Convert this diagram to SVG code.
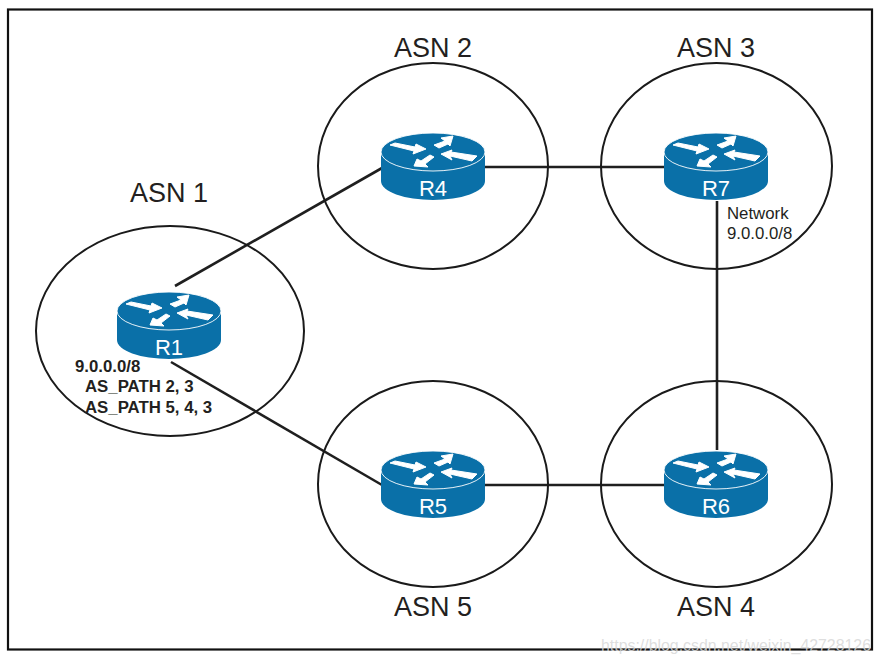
<svg xmlns="http://www.w3.org/2000/svg" width="882" height="663" viewBox="0 0 882 663">
<style>
text{font-family:"Liberation Sans",Arial,sans-serif}
.asn{fill:none;stroke:#1a1a1a;stroke-width:2}
.link{fill:none;stroke:#1f1f1f;stroke-width:2.6}
.lab{font-size:27px;fill:#231f20;text-anchor:middle}
.rn{font-size:22px;fill:#fff;text-anchor:middle}
.note{font-size:16.800px;fill:#231f20}
.b{font-weight:bold}
</style>
<defs>
<g id="router">
<path d="M-52 0V29A52 19 0 0 0 52 29V0Z" fill="#0a70a8"/>
<ellipse cx="0" cy="0" rx="52" ry="19" fill="#0a70a8" stroke="#fff" stroke-width="0.9"/>
<g fill="#fff" stroke="#fff" stroke-width="1" stroke-linejoin="round">
<polygon points="-43,-7 -38,-9 -18,-5 -17,-8 -7,-3 -20,2 -19,-1"/>
<polygon points="20,-16 8,-14 12,-11 1,-7 6,-4 15,-8 17,-6"/>
<polygon points="8,2 19,-2 18,0 44,4 39,9 17,4 19,8"/>
<polygon points="-19,14 -16,7 -12,9 -3,3 1,5 -8,12 -5,15"/>
</g>
</g>
</defs>
<rect width="882" height="663" fill="#fff"/>
<rect x="8" y="9.500" width="864" height="640" fill="none" stroke="#111" stroke-width="2.200"/>
<g id="connectors">
<line class="link" x1="175" y1="286" x2="382" y2="168"/>
<line class="link" x1="485" y1="167" x2="665" y2="167"/>
<line class="link" x1="717" y1="201" x2="717" y2="450"/>
<line class="link" x1="171" y1="362" x2="382" y2="485"/>
<line class="link" x1="485" y1="485" x2="665" y2="485"/>
</g>
<g id="asn1"><ellipse class="asn" cx="170" cy="331" rx="134" ry="105"/><text class="lab" x="169" y="202">ASN 1</text></g>
<g id="asn2"><ellipse class="asn" cx="433" cy="166" rx="115" ry="103"/><text class="lab" x="433" y="57">ASN 2</text></g>
<g id="asn3"><ellipse class="asn" cx="716.500" cy="166" rx="115.500" ry="103"/><text class="lab" x="716" y="57">ASN 3</text></g>
<g id="asn5"><ellipse class="asn" cx="433" cy="484" rx="115" ry="103"/><text class="lab" x="433" y="616">ASN 5</text></g>
<g id="asn4"><ellipse class="asn" cx="716.500" cy="484" rx="115.500" ry="103"/><text class="lab" x="716" y="616">ASN 4</text></g>
<g id="r1"><use href="#router" x="169" y="311"/><text class="rn" x="169" y="355">R1</text>
<text class="note b" x="75" y="372">9.0.0.0/8</text><text class="note b" x="85" y="392">AS_PATH 2, 3</text><text class="note b" x="85" y="413">AS_PATH 5, 4, 3</text></g>
<g id="r4"><use href="#router" x="433" y="152"/><text class="rn" x="433" y="196">R4</text></g>
<g id="r7"><use href="#router" x="716" y="152"/><text class="rn" x="716" y="196">R7</text>
<text class="note" x="727" y="219">Network</text><text class="note" x="727" y="239">9.0.0.0/8</text></g>
<g id="r5"><use href="#router" x="433" y="470"/><text class="rn" x="433" y="514">R5</text></g>
<g id="r6"><use href="#router" x="716" y="470"/><text class="rn" x="716" y="514">R6</text></g>
<text x="601" y="651" font-size="16" fill="#d8d8d8" fill-opacity="0.85" textLength="270" lengthAdjust="spacingAndGlyphs">https://blog.csdn.net/weixin_42728126</text>
</svg>
